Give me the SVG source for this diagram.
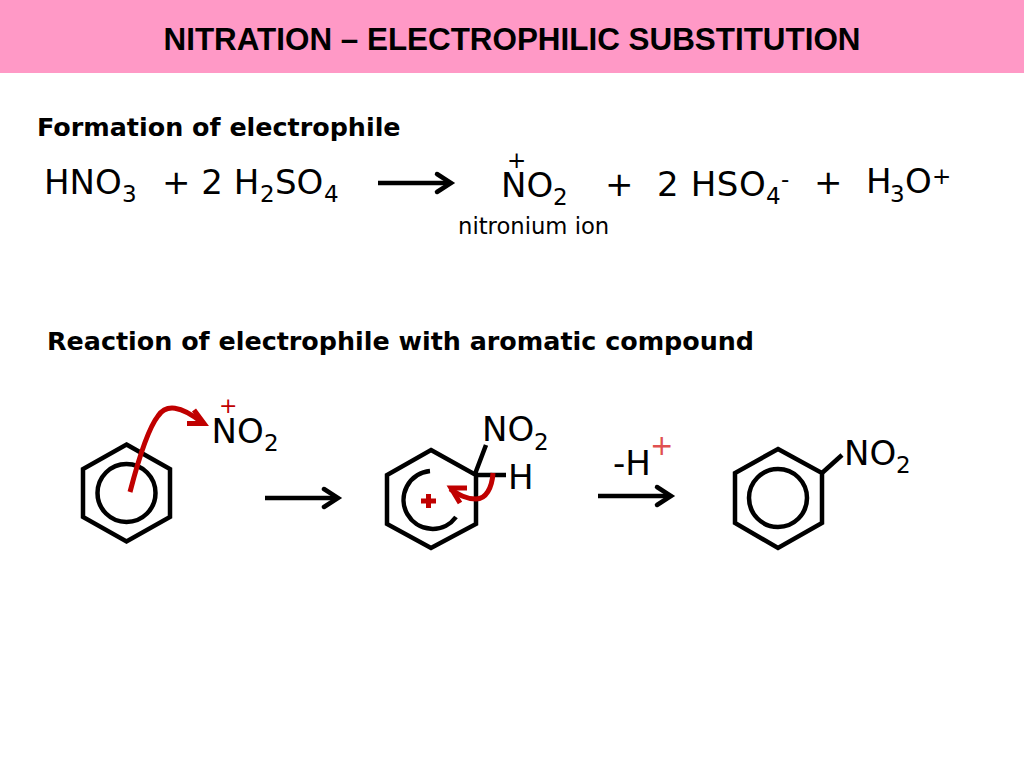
<svg xmlns="http://www.w3.org/2000/svg" width="1024" height="768" viewBox="0 0 1024 768">
<style>
text{font-family:"DejaVu Sans",sans-serif;fill:#000}
.c{font-size:34px}
.s{font-size:23px}
.h{font-size:25.4px;font-weight:bold}
.m{fill:none;stroke:#000;stroke-width:4.5}
.r{fill:none;stroke:#c00000;stroke-width:5}
.a{fill:none;stroke:#000;stroke-width:4.500;stroke-linecap:round}
.b{fill:none;stroke:#000;stroke-width:4.500}
</style>
<defs>
<g id="arrow"><path class="b" d="M0 0H72"/><path class="a" d="M59-9L73 0L59 9"/></g>
</defs>
<rect id="banner" width="1024" height="73" fill="#ff99c6"/>
<text x="512" y="50" text-anchor="middle" style="font-family:'Liberation Sans',Arial,sans-serif;font-size:31.400px;font-weight:bold">NITRATION – ELECTROPHILIC SUBSTITUTION</text>
<text id="heading1" class="h" x="37" y="136">Formation of electrophile</text>
<text id="heading2" class="h" x="47" y="350">Reaction of electrophile with aromatic compound</text>
<g id="eq1">
<text class="c" x="44" y="194">HNO</text><text class="s" x="122" y="202">3</text>
<text class="c" x="162" y="194">+ 2 H</text><text class="s" x="260" y="202">2</text>
<text class="c" x="275" y="194">SO</text><text class="s" x="324" y="202">4</text>
<text class="c" x="501" y="197">NO</text><text class="s" x="553" y="205">2</text>
<text class="s" x="507" y="168">+</text>
<text class="c" x="605" y="196">+</text>
<text class="c" x="657" y="196" style="letter-spacing:.6px">2 HSO</text><text class="s" x="766" y="204">4</text><text class="s" x="781" y="187">-</text>
<text class="c" x="814" y="194">+</text>
<text class="c" x="866" y="193">H</text><text class="s" x="890" y="202">3</text><text class="c" x="905" y="193">O</text><text class="s" x="932" y="184">+</text>
<text x="458" y="234" style="font-size:22.700px">nitronium ion</text>
</g>
<g id="connectors">
<use href="#arrow" x="378" y="183"/>
<use href="#arrow" x="265" y="498"/>
<use href="#arrow" x="598" y="496"/>
</g>
<g id="benzene">
<path class="m" d="M126.500 444.500L170 469V517L126.500 541.500L83 517V469Z"/>
<circle class="m" cx="126.500" cy="493" r="29"/>
<path class="r" d="M130 492C137 465 147 430 158 416C166 404 180 405 203 423"/>
<path class="r" d="M187 423.500H204L194 410"/>
<text style="font-size:22px;fill:#c00000" x="219" y="413">+</text>
<text class="c" x="211.500" y="443">NO</text><text class="s" x="264" y="451">2</text>
</g>
<g id="intermediate">
<path class="m" d="M431 450L476 475V524L431 548L387 524V475Z"/>
<path class="m" d="M430 471A29 29 0 1 0 456 517"/>
<path class="m" d="M475 474L486 445M475 475H506"/>
<path class="r" d="M493 473C492 488 486 499 476 499C465 499 458 494 450 489"/>
<path class="r" d="M467 488H451L460 503"/>
<path d="M421 501H436M428.500 494V508" fill="none" stroke="#c00000" stroke-width="5"/>
<text class="c" x="482" y="441">NO</text><text class="s" x="534" y="450">2</text>
<text class="c" x="508" y="489">H</text>
</g>
<g id="proton">
<text class="c" x="613" y="475">-H</text>
<text style="font-size:28px;fill:#e05050" x="650" y="455">+</text>
</g>
<g id="nitrobenzene">
<path class="m" d="M778 449L822 473V523L778 548L735 523V473Z"/>
<circle class="m" cx="778" cy="498" r="29"/>
<path class="m" d="M822 473L842 455"/>
<text class="c" x="844" y="465">NO</text><text class="s" x="896" y="473">2</text>
</g>
</svg>
